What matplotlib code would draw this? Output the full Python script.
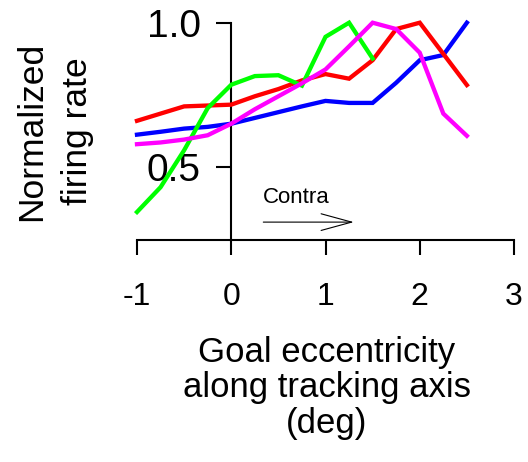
import matplotlib
matplotlib.use("Agg")
import matplotlib.pyplot as plt
from matplotlib.patches import FancyArrowPatch, ArrowStyle

plt.rcParams['font.family'] = ['Liberation Sans', 'DejaVu Sans']

x_vals = [-1.0, -0.75, -0.5, -0.25, 0.0, 0.25, 0.5, 0.75, 1.0, 1.25, 1.5, 1.75, 2.0, 2.25, 2.5]
blue = [0.612, 0.622, 0.633, 0.639, 0.650, 0.670, 0.690, 0.710, 0.729, 0.722, 0.722, 0.792, 0.870, 0.888, 1.000]
red = [0.660, 0.685, 0.710, 0.713, 0.716, 0.745, 0.770, 0.800, 0.822, 0.806, 0.870, 0.978, 1.000, 0.892, 0.784]
green = [0.344, 0.430, 0.558, 0.704, 0.785, 0.815, 0.818, 0.782, 0.951, 1.000, 0.876]
magenta = [0.579, 0.585, 0.595, 0.610, 0.650, 0.700, 0.745, 0.790, 0.838, 0.918, 1.000, 0.978, 0.896, 0.685, 0.608]

series = [(blue, '#0000ff'), (red, '#ff0000'), (green, '#00ff00'), (magenta, '#ff00ff')]

x_ticks = [-1, 0, 1, 2, 3]
y_ticks = [0.5, 1.0]
y_ticklabels = ['0.5', '1.0']

W, H = 528, 462
fig = plt.figure(figsize=(W / 100, H / 100), dpi=100)
ax = fig.add_axes([137 / W, (H - 240) / H, (514 - 137) / W, (240 - 22.7) / H])
ymin = 0.247
ax.set_xlim(-1, 3)
ax.set_ylim(ymin, 1.0)

for vals, col in series:
    ax.plot(x_vals[:len(vals)], vals, color=col, lw=3.1, clip_on=False, zorder=3,
            solid_joinstyle='miter')

for s in ['top', 'right']:
    ax.spines[s].set_visible(False)
ax.spines['left'].set_position(('data', 0))
ax.spines['left'].set_bounds(ymin, 1.0)
ax.spines['bottom'].set_bounds(-1, 3)
for s in ['left', 'bottom']:
    ax.spines[s].set_linewidth(1.5)

ax.set_xticks(x_ticks)
ax.set_xticklabels([str(t) for t in x_ticks])
ax.set_yticks(y_ticks)
ax.set_yticklabels(y_ticklabels)
ax.tick_params(axis='x', direction='out', length=11, width=1.5, pad=19, labelsize=23)
ax.tick_params(axis='y', direction='out', length=11, width=1.5, pad=11, labelsize=28)

ax.text(0.34, 0.374, 'Contra', fontsize=16, ha='left', va='baseline')
arr = FancyArrowPatch((0.34, 0.309), (1.3, 0.309),
                      arrowstyle=ArrowStyle('->', head_length=22, head_width=6),
                      mutation_scale=1, lw=0.8, color='black', shrinkA=0, shrinkB=0)
ax.add_patch(arr)

fig.text(55 / W, 1 - 131 / H, 'Normalized\nfiring rate', rotation=90, ha='center', va='center',
         multialignment='center', fontsize=25.5, linespacing=1.5)
fig.text(327 / W, 1 - 388 / H, 'Goal eccentricity\nalong tracking axis\n(deg)', ha='center',
         va='center', multialignment='center', fontsize=25, linespacing=1.1)

fig.savefig('out.png', dpi=100)
